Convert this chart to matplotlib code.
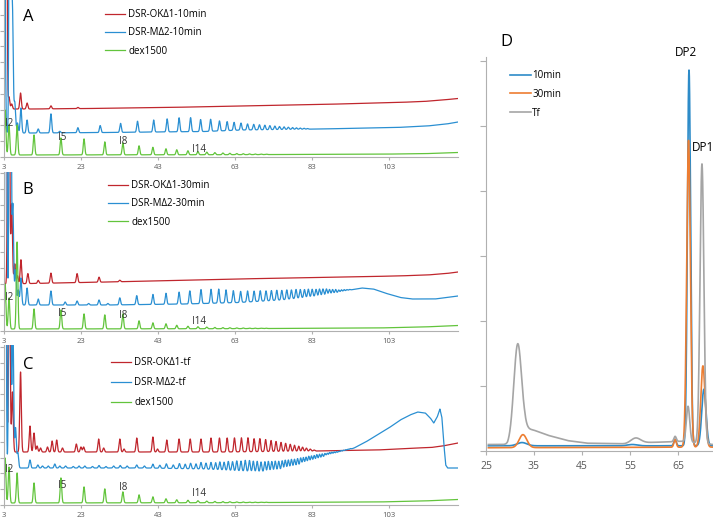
import numpy as np
import matplotlib.pyplot as plt

plt.rcParams['font.family'] = ['Open Sans', 'DejaVu Sans']

# ---------------- data: panels A-C (retention time, min; signal in px-like units) ----------------
dex_t = [3.3, 4.3, 6.4, 10.8, 17.8, 23.8, 29.2, 33.9, 38.1, 41.7, 45.1, 47.9, 50.8, 53.4,
         55.7, 57.8, 59.9, 61.7, 63.5, 65.2, 66.8, 68.3, 69.8, 71.2]
dex_h_A = [45, 30, 30, 20, 17, 16, 13, 12, 9, 7.5, 6, 5, 4, 3.2, 2.6, 2.1, 1.7, 1.4, 1.1, 0.9, 0.7, 0.6, 0.5, 0.4]
dex_h_B = [45, 31, 87, 20, 19, 15, 14, 15, 8, 6, 5, 3.5, 2.5, 2, 1.6, 1.3, 1.1, 0.9, 0.7, 0.6, 0.5, 0.4, 0.3, 0.3]
dex_h_C = [45, 36, 30, 20, 25, 16, 14, 11, 8, 6, 4, 3, 2.5, 2, 1.6, 1.3, 1.1, 0.9, 0.7, 0.6, 0.5, 0.4, 0.3, 0.3]
dex_base_t = [3, 60, 100, 112, 121]
dex_base_A = [2, 2.3, 2.8, 3.3, 4.5]
dex_base_B = [2, 2.3, 3, 4, 5.5]
dex_base_C = [2, 2.3, 3, 4, 5.5]

# A : 10 min
redA_base_t = [3, 10, 25, 45, 65, 85, 105, 112, 117, 121]
redA_base_y = [48, 48, 48.5, 49.5, 51, 52.5, 54.5, 55.5, 57, 58.5]
redA_t = [3.5, 4.3, 5.0, 7.3, 9.0, 15.2, 22.2]
redA_h = [600, 12, 5, 16, 6, 3, 1.2]

bluA_base_t = [3, 10, 30, 55, 65, 85, 105, 113, 118, 121]
bluA_base_y = [24, 24, 24.5, 25.5, 27, 28, 29.5, 31, 33, 35]
bluA_t = [3.1, 4.6, 5.2, 5.8, 6.5, 7.4, 9.0, 11.9, 15.2, 17.5, 22.2, 28.0, 33.3, 37.7, 41.9,
          45.4, 48.5, 51.5, 54.1, 56.7, 59.0, 61.0, 62.8, 64.6, 66.3, 67.9, 69.4, 70.8, 72.1,
          73.4, 74.6, 75.8, 76.9, 78.0, 79.0, 80.0, 81.0, 81.9]
bluA_h = [300, 800, 120, 30, 10, 25, 13, 4, 19, 1.5, 5, 7, 9, 11, 12, 13, 14, 14, 12, 12, 10,
          9, 8, 7, 6, 5.5, 5, 4.5, 4, 3.5, 3, 2.6, 2.2, 1.8, 1.5, 1.2, 0.9, 0.6]

# B : 30 min
redB_base_t = [3, 10, 30, 63, 85, 105, 113, 118, 121]
redB_base_y = [47, 47.5, 49, 52, 53.5, 55, 56, 57.5, 59]
redB_t = [4.2, 5.0, 5.8, 6.5, 7.4, 9.2, 11.9, 15.2, 22.0, 27.7, 33.1]
redB_h = [600, 80, 20, 8, 24, 10, 3, 10, 9, 5, 1.5]

bluB_base_t = [3, 30, 50, 64, 75, 85, 90, 93, 96, 99, 102, 106, 109, 115, 119, 121]
bluB_base_y = [26, 26, 27, 28.5, 31, 35, 38, 41, 43, 42, 38, 33.5, 32, 32, 34, 35]
bluB_t = [3.5, 4.6, 5.3, 6.0, 6.7, 7.4, 9.0, 11.9, 15.2, 18.9, 22.0, 25.0, 27.7, 30.0, 33.1,
          37.5, 41.7, 45.1, 48.5, 51.3, 54.2, 56.8, 58.8, 60.7, 62.6, 64.5, 66.3, 68.0, 69.6,
          71.1, 72.5, 73.9, 75.2, 76.5, 77.7, 78.9, 80.0, 81.1, 82.1, 83.1, 84.1, 85.0, 85.9,
          86.8, 87.6, 88.4, 89.2, 90.0, 90.7, 91.4, 92.1, 92.8]
bluB_h = [500, 700, 100, 35, 15, 27, 17, 6, 14, 3, 4, 1.5, 5, 1.5, 7, 9, 10, 11, 12, 13, 14,
          14, 14, 13, 12, 11, 11, 10.5, 10.5, 10, 10, 10, 9.5, 9.5, 9, 9, 8.5, 8, 8, 7.5, 7, 7,
          6.5, 6, 5, 4.5, 4, 3, 2.5, 2, 1.3, 0.7]

# C : final time
redC_base_t = [3, 30, 60, 84, 100, 110, 114, 117, 121]
redC_base_y = [53, 53, 53, 54, 55, 57, 57.5, 59, 62]
redC_t = [3.4, 4.4, 5.2, 7.3, 9.75, 10.8, 11.6, 12.5, 14.3, 15.5, 16.7, 18.2, 21.8, 23.0, 23.7,
          27.6, 28.9, 33.1, 34.2, 37.5, 41.7, 42.9, 45.3, 48.5, 51.4, 54.2, 56.8, 59.0, 61.0,
          62.9, 64.7, 66.4, 68.0, 69.5, 71.0, 72.4, 73.7, 75.0, 76.2, 77.4, 78.5, 79.6, 80.6,
          81.6, 82.6, 83.6]
redC_h = [600, 200, 60, 80, 26, 19, 6, 4, 5, 11, 12, 4, 8, 5, 5, 13, 4, 13, 3, 14, 15, 3, 12,
          13, 13, 13, 14, 14, 14, 14, 14, 14, 13, 13, 12, 11, 10, 9, 8, 7, 6, 5, 4, 3, 2, 1]

bluC_base_t = [3, 8, 20, 40, 55, 64, 70, 75, 80, 84, 88, 91, 94, 97, 100, 103, 106, 108.5,
               110.5, 112.5, 113.8, 114.7, 115.6, 116.3, 116.8, 117.3, 117.8, 118.3, 121]
bluC_base_y = [37, 37, 37, 37, 36, 34, 33, 35, 39, 44, 49, 53, 57, 63, 70, 77, 85, 90, 93,
               92, 87, 82, 88, 96, 88, 62, 40, 37, 37]
bluC_t = [3.3, 4.5, 5.3, 6.0, 6.6, 9.75, 11.8, 13.0, 14.5, 16.2, 17.5, 19.0, 21.0, 22.5, 24.0,
          26.0, 27.7, 29.5, 31.5, 33.2, 35.0, 37.5, 39.5, 41.7, 43.5, 45.2, 47.0, 48.6, 50.1,
          51.5, 52.9, 54.2, 55.5, 56.8, 58.0, 59.1, 60.2, 61.3, 62.4, 63.5, 64.6, 65.7, 66.8,
          67.8, 68.8, 69.8, 70.8, 71.7, 72.6, 73.5, 74.4, 75.3, 76.1, 76.9, 77.7, 78.5, 79.3,
          80.1, 80.8, 81.5, 82.2, 82.9, 83.6, 84.3, 85.0, 85.7, 86.4, 87.0, 87.6, 88.2, 88.8,
          89.4, 90.0, 90.6, 91.2, 91.8, 92.4, 93.0]
bluC_h = [500, 800, 150, 40, 15, 8, 3, 2, 2, 4, 2, 2, 1.5, 2, 2, 1.5, 2.5, 1.5, 2, 2.5, 2, 3,
          2, 4, 3, 4.5, 3.5, 5, 4.5, 5.5, 5, 6.5, 6, 7, 7, 8, 8, 9, 9, 10, 10, 11, 11, 10.5,
          10.5, 10, 10, 10, 9.5, 9.5, 9, 9, 9, 8.5, 8.5, 8, 8, 8, 7.5, 7, 7, 6.5, 6, 6, 5.5, 5,
          4.5, 4, 4, 3.5, 3, 2.5, 2, 2, 1.5, 1.2, 0.9, 0.7]

# ---------------- data: panel D ----------------
d_lim = [25, 72.3]
d10_base_t, d10_base_y = [25.5, 72.3], [0.08, 0.08]
d10_t = [32.5, 55.5, 64.4, 67.3, 70.4]
d10_h = [0.05, 0.02, 0.1, 5.78, 0.87]
d10_w = [1.0, 1.0, 0.25, 0.33, 0.45]

d30_base_t, d30_base_y = [25.5, 72.3], [0.05, 0.06]
d30_t = [32.7, 64.4, 67.2, 70.2]
d30_h = [0.2, 0.12, 4.72, 1.25]
d30_w = [0.8, 0.25, 0.38, 0.45]

dtf_base_t = [25.5, 29.5, 33, 35, 38, 42, 46, 54, 58, 63, 65.5, 72.3]
dtf_base_y = [0.1, 0.1, 0.35, 0.32, 0.24, 0.16, 0.12, 0.11, 0.13, 0.14, 0.15, 0.1]
dtf_t = [31.6, 56.2, 64.4, 67.1, 70.0]
dtf_h = [1.4, 0.08, 0.08, 0.55, 4.3]
dtf_w = [0.8, 1.0, 0.25, 0.35, 0.4]

RED, BLUE, GREEN = '#c0262d', '#2a8fd2', '#62c43c'
AX_GRAY, TXT_GRAY = '#b0b0b0', '#595959'


def trace(grid, base_t, base_y, pk_t, pk_h, width):
    # baseline + peak table rendered as narrow gaussian peaks
    y = np.interp(grid, base_t, base_y)
    widths = np.broadcast_to(width, np.shape(pk_t))
    for t0, h, s in zip(pk_t, pk_h, widths):
        y = y + h * np.exp(-0.5 * ((grid - t0) / s) ** 2)
    return y


fig = plt.figure(figsize=(7.13, 5.19), dpi=100)
W, H = 713, 519

panels = [
    # letter, top px, bottom px, legend labels, red, blue, green, legend top px, handle x, pitch, I labels y
    ('A', 0, 157, ['DSR-OKΔ1-10min', 'DSR-MΔ2-10min', 'dex1500'],
     (redA_base_t, redA_base_y, redA_t, redA_h), (bluA_base_t, bluA_base_y, bluA_t, bluA_h),
     (dex_base_t, dex_base_A, dex_t, dex_h_A), 9, 105, 0.75, [33, 19, 15, 8], 17),
    ('B', 172, 331, ['DSR-OKΔ1-30min', 'DSR-MΔ2-30min', 'dex1500'],
     (redB_base_t, redB_base_y, redB_t, redB_h), (bluB_base_t, bluB_base_y, bluB_t, bluB_h),
     (dex_base_t, dex_base_B, dex_t, dex_h_B), 180, 108, 0.75, [33, 18, 16, 9], 190),
    ('C', 345, 505, ['DSR-OKΔ1-tf', 'DSR-MΔ2-tf', 'dex1500'],
     (redC_base_t, redC_base_y, redC_t, redC_h), (bluC_base_t, bluC_base_y, bluC_t, bluC_h),
     (dex_base_t, dex_base_C, dex_t, dex_h_C), 357, 111, 0.95, [35, 20, 18, 11], 365),
]

grid = np.linspace(3, 121, 8000)
for letter, top, bot, labels, red, blu, grn, leg_top, hx, pitch, ily, let_y in panels:
    ax = fig.add_axes([4 / W, (H - bot) / H, 454 / W, (bot - top) / H])
    ax.plot(grid, trace(grid, *red, 0.2), color=RED, lw=0.9, label=labels[0])
    ax.plot(grid, trace(grid, *blu, 0.2), color=BLUE, lw=0.9, label=labels[1])
    ax.plot(grid, trace(grid, *grn, 0.2), color=GREEN, lw=0.9, label=labels[2])
    ax.set_xlim(3, 121)
    ax.set_ylim(0, bot - top)
    ax.set_xticks([3, 23, 43, 63, 83, 103])
    ax.set_yticks(np.arange(0, bot - top, 15.8))
    ax.set_yticklabels([])
    ax.tick_params(axis='x', labelsize=5.5, labelcolor=TXT_GRAY, color=AX_GRAY, length=2, pad=3)
    ax.tick_params(axis='y', color=AX_GRAY, length=3)
    for s in ['top', 'right']:
        ax.spines[s].set_visible(False)
    for s in ['left', 'bottom']:
        ax.spines[s].set_color(AX_GRAY)
        ax.spines[s].set_linewidth(0.8)
    for txt, xl, yy in zip(['I2', 'I5', 'I8', 'I14'], [3.3, 17.0, 32.9, 51.8], ily):
        ax.text(xl, yy, txt, fontsize=7, color='#333333', ha='left', va='center')
    ax.legend(loc='upper left', bbox_to_anchor=(hx / W, 1 - leg_top / H),
              bbox_transform=fig.transFigure, frameon=False, fontsize=7,
              handlelength=2.1, handletextpad=0.3, labelspacing=pitch,
              borderpad=0, borderaxespad=0)
    fig.text(28 / W, 1 - let_y / H, letter, fontsize=12, ha='center', va='center')

# ---------------- panel D ----------------
axd = fig.add_axes([486 / W, (H - 451) / H, 227 / W, 394 / H])
dg = np.linspace(25.5, 72.3, 4000)
axd.plot(dg, trace(dg, d10_base_t, d10_base_y, d10_t, d10_h, d10_w), color='#2d8bc8', lw=1.2, label='10min')
axd.plot(dg, trace(dg, d30_base_t, d30_base_y, d30_t, d30_h, d30_w), color='#ed7d31', lw=1.2, label='30min')
axd.plot(dg, trace(dg, dtf_base_t, dtf_base_y, dtf_t, dtf_h, dtf_w), color='#a5a5a5', lw=1.2, label='Tf')
axd.set_xlim(*d_lim)
axd.set_ylim(0, 394 / 65)
axd.set_xticks([25, 35, 45, 55, 65])
axd.set_yticks(np.arange(0, 6.1, 1))
axd.set_yticklabels([])
axd.tick_params(axis='x', labelsize=7.5, labelcolor=TXT_GRAY, color=AX_GRAY, length=3, pad=4)
axd.tick_params(axis='y', color=AX_GRAY, length=4)
for s in ['top', 'right']:
    axd.spines[s].set_visible(False)
for s in ['left', 'bottom']:
    axd.spines[s].set_color(AX_GRAY)
    axd.spines[s].set_linewidth(0.8)
axd.legend(loc='upper left', bbox_to_anchor=(510 / W, 1 - 70 / H), bbox_transform=fig.transFigure,
           frameon=False, fontsize=7, handlelength=2.2, handletextpad=0.1, labelspacing=0.8,
           borderpad=0, borderaxespad=0)
fig.text(506 / W, 1 - 42 / H, 'D', fontsize=12, ha='center', va='center')
fig.text(686 / W, 1 - 52 / H, 'DP2', fontsize=8.5, ha='center', va='center')
fig.text(703 / W, 1 - 148 / H, 'DP1', fontsize=8.5, ha='center', va='center')

fig.savefig('out.png', dpi=100)
